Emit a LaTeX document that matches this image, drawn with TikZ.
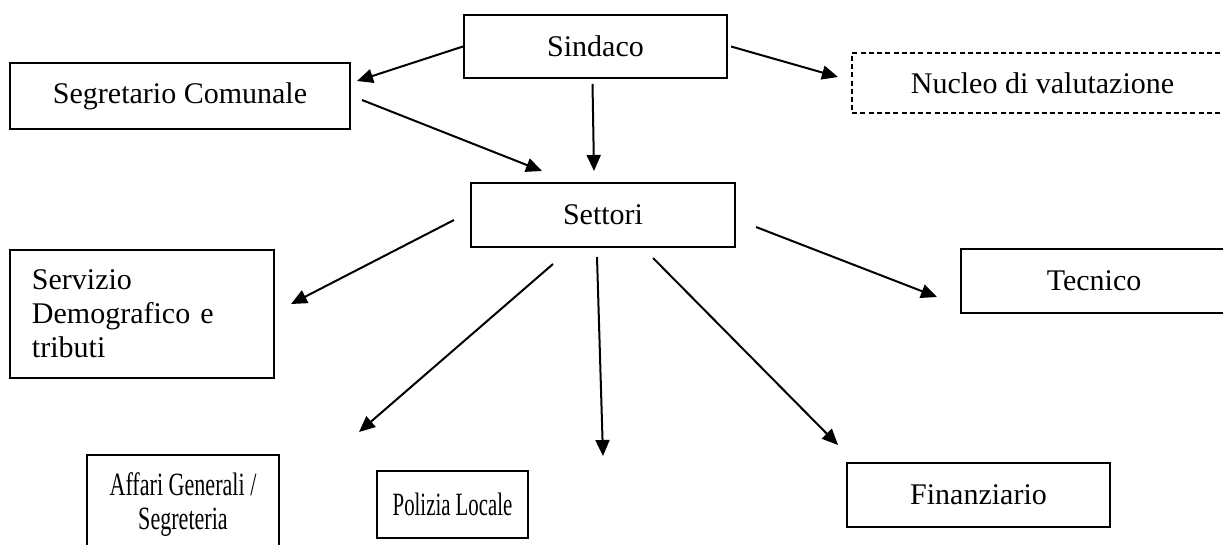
\documentclass[tikz,border=0pt]{standalone}
\usepackage{fontspec}
\usepackage{graphicx}
\setmainfont{Liberation Serif}
\usetikzlibrary{arrows.meta}
\newcommand{\narrowtext}[2]{\scalebox{#1}[1]{\fontsize{13}{14}\selectfont #2}}
\tikzset{
  box/.style={shape=rectangle, draw, line width=0.8pt, align=center,
    font=\fontsize{12}{13.6}\selectfont, inner sep=2pt},
  dashbox/.style={box, dash pattern=on 2pt off 1.3pt},
  arr/.style={line width=0.8pt, -{Triangle[length=6.4pt,width=5.6pt]}}
}
\begin{document}
\begin{tikzpicture}[x=0.4pt, y=-0.4pt]
    \clip (0,0) rectangle (1223,545);
    % top level
    \node[box, minimum width=105.2pt, minimum height=25.2pt] (sind) at (595.5,46.5) {Sindaco};
    \node[box, minimum width=136pt, minimum height=26.4pt] (segr) at (180,96) {Segretario Comunale};
    \node[dashbox, minimum width=152.4pt, minimum height=24pt] (nucl) at (1042.5,83) {Nucleo di valutazione};
    \node[box, minimum width=105.6pt, minimum height=25.6pt] (sett) at (603,215) {Settori};
    % settori
    \node[box, minimum width=105.6pt, minimum height=51.2pt, text width=88pt, align=left,
      inner xsep=8.8pt] (serv) at (142,314) {Servizio\\Demografico e\\tributi};
    \node[box, minimum width=106.4pt, minimum height=25.6pt] (tecn) at (1094,281) {Tecnico};
    \node[box, minimum width=76.8pt, minimum height=40pt] (affa) at (183,505)
      {\narrowtext{0.68}{Affari Generali /}\\\narrowtext{0.68}{Segreteria}};
    \node[box, minimum width=60.4pt, minimum height=26.8pt] (poli) at (452.5,504.5) {\narrowtext{0.64}{Polizia Locale}};
    \node[box, minimum width=105.2pt, minimum height=25.6pt] (fina) at (978.5,495) {Finanziario};
    % connectors
    \draw[arr] (sind.west) -- ([shift={(6,-15)}]segr.east);
    \draw[arr] ([shift={(3,0)}]sind.east) -- ([shift={(-13,-6)}]nucl.west);
    \draw[arr] ([shift={(-3,5)}]sind.south) -- ([shift={(-9,-11)}]sett.north);
    \draw[arr] ([shift={(11,4)}]segr.east) -- ([shift={(72,-11)}]sett.north west);
    \draw[arr] ([shift={(-16,5)}]sett.west) -- ([shift={(16,-10)}]serv.east);
    \draw[arr] ([shift={(-50,16)}]sett.south) -- ([shift={(79,-22)}]affa.north east);
    \draw[arr] ([shift={(-6,9)}]sett.south) -- ([shift={(150.5,-14)}]poli.north);
    \draw[arr] ([shift={(50,10)}]sett.south) -- ([shift={(-8,-17)}]fina.north west);
    \draw[arr] ([shift={(20,12)}]sett.east) -- ([shift={(-23,16)}]tecn.west);
\end{tikzpicture}
\end{document}
